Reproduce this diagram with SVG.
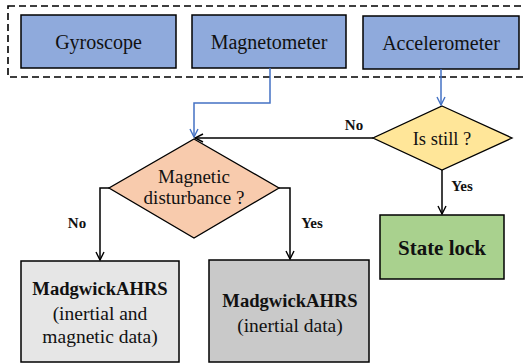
<svg xmlns="http://www.w3.org/2000/svg" width="525" height="364" viewBox="0 0 525 364">
<defs>
<marker id="ab" viewBox="0 0 10 10" refX="9" refY="5" markerWidth="10" markerHeight="10" markerUnits="userSpaceOnUse" orient="auto">
<path d="M1,1 L9,5 L1,9" fill="none" stroke="#000" stroke-width="1.4"/>
</marker>
<marker id="abl" viewBox="0 0 10 10" refX="9" refY="5" markerWidth="10" markerHeight="10" markerUnits="userSpaceOnUse" orient="auto">
<path d="M1,1 L9,5 L1,9" fill="none" stroke="#4472c4" stroke-width="1.4"/>
</marker>
</defs>
<style>
text{font-family:'Liberation Serif','DejaVu Serif',serif;fill:#111;text-anchor:middle}
.sensor{fill:#8faadc;stroke:#000;stroke-width:1.5}
.lbl{font-weight:bold;font-size:15px}
.b{font-weight:bold}
.line{fill:none;stroke:#000;stroke-width:1.5}
.blue{fill:none;stroke:#4472c4;stroke-width:1.5}
</style>
<rect x="8" y="6" width="530" height="71" fill="none" stroke="#000" stroke-width="1.6" stroke-dasharray="7 4"/>
<g id="gyroscope"><rect class="sensor" x="21" y="15" width="155" height="53"/><text x="98.5" y="49" font-size="20">Gyroscope</text></g>
<g id="magnetometer"><rect class="sensor" x="192" y="15" width="154" height="53"/><text x="269" y="49" font-size="20">Magnetometer</text></g>
<g id="accelerometer"><rect class="sensor" x="363" y="16" width="156" height="53"/><text x="441" y="50" font-size="20">Accelerometer</text></g>
<g id="magnetic-disturbance"><polygon points="194,139 279,188 194,238 109,188" fill="#f8cbad" stroke="#000" stroke-width="1.3"/><text x="194" y="183" font-size="19">Magnetic</text><text x="194" y="204" font-size="19">disturbance ?</text></g>
<g id="is-still"><polygon points="442,106 512,138 442,170 373,138" fill="#ffe699" stroke="#000" stroke-width="1.3"/><text x="442" y="145" font-size="18.5">Is still ?</text></g>
<g id="state-lock"><rect x="380" y="215" width="124" height="64" fill="#a9d18e" stroke="#000" stroke-width="1.5"/><text class="b" x="442" y="255" font-size="21">State lock</text></g>
<g id="madgwick-full"><rect x="21" y="261" width="158" height="101" fill="#e6e6e6" stroke="#000" stroke-width="1.5"/><text class="b" x="100" y="295" font-size="18.6">MadgwickAHRS</text><text x="100" y="320" font-size="19.5">(inertial and</text><text x="100" y="343" font-size="19.5">magnetic data)</text></g>
<g id="madgwick-inertial"><rect x="209" y="260" width="160" height="102" fill="#c9c9c9" stroke="#000" stroke-width="1.5"/><text class="b" x="290" y="307" font-size="18.6">MadgwickAHRS</text><text x="290" y="332" font-size="19.5">(inertial data)</text></g>
<g id="connectors">
<polyline class="blue" points="270,68 270,103 194,103 194,137" marker-end="url(#abl)"/>
<line class="blue" x1="441" y1="69" x2="441" y2="105" marker-end="url(#abl)"/>
<line class="line" x1="373" y1="138" x2="195" y2="138" marker-end="url(#ab)"/>
<line class="line" x1="442" y1="170" x2="442" y2="214" marker-end="url(#ab)"/>
<polyline class="line" points="109,188 100,188 100,260" marker-end="url(#ab)"/>
<polyline class="line" points="279,188 290,188 290,259" marker-end="url(#ab)"/>
<text class="lbl" x="354" y="130">No</text>
<text class="lbl" x="462" y="191">Yes</text>
<text class="lbl" x="77" y="228">No</text>
<text class="lbl" x="312" y="228">Yes</text>
</g>
</svg>
